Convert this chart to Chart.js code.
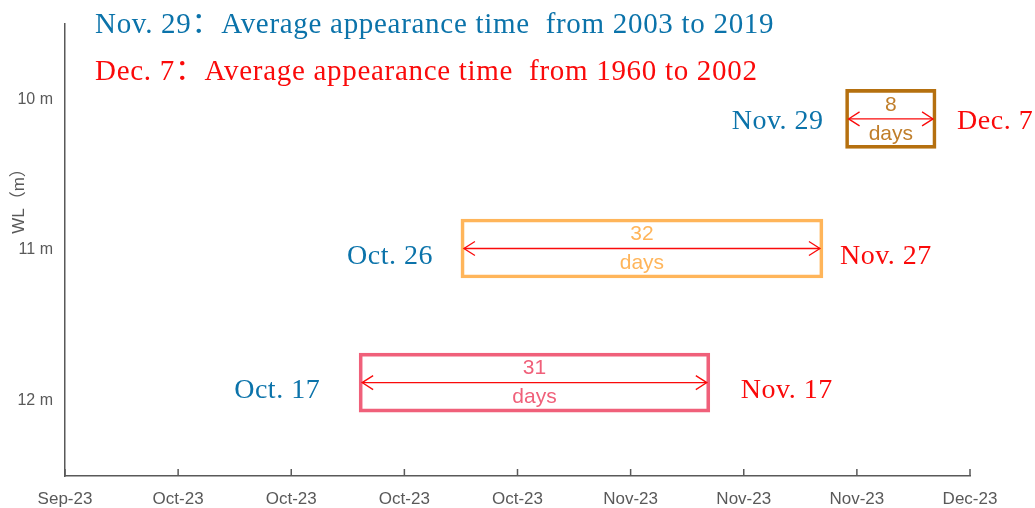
<!DOCTYPE html>
<html>
<head>
<meta charset="utf-8">
<script src="https://cdn.jsdelivr.net/npm/chart.js@4.4.1/dist/chart.umd.min.js"></script>
<style>
html,body{margin:0;padding:0;background:#fff;}
canvas{display:block;}
</style>
</head>
<body>
<canvas id="c" width="1035" height="508"></canvas>
<script>
// ---- data ----
const baseDate = '2023-09-21';
const tickLabels = ['Sep-23','Oct-23','Oct-23','Oct-23','Oct-23','Nov-23','Nov-23','Nov-23','Dec-23'];
const yTickValues = [10, 11, 12];
const yTickLabels = ['10 m', '11 m', '12 m'];
const startDates = ['2023-10-17', '2023-10-26', '2023-11-29'];
const endDates = ['2023-11-17', '2023-11-27', '2023-12-07'];
const durations = [31, 32, 8];
const levels = [11.88, 10.99, 10.13];
const startLabels = ['Oct. 17', 'Oct. 26', 'Nov. 29'];
const endLabels = ['Nov. 17', 'Nov. 27', 'Dec. 7'];
const titleLines = [
  'Nov. 29\uFF1AAverage appearance time  from 2003 to 2019',
  'Dec. 7\uFF1AAverage appearance time  from 1960 to 2002'
];

// ---- styles ----
const BLUE = '#0b73aa';
const RED = '#fa0a0a';
const boxColors = ['#f0607a', '#ffb55a', '#b5700f'];
const boxTextColors = ['#f0607a', '#ffb55a', '#c07e2a'];
const startGap = [39, 28, 22];
const endGap = [31, 17, 21];
const labelDy = [15, 16, 10];
const AXIS = '#595959';
const SERIF = '"Liberation Serif", "Noto Sans CJK SC", "Times New Roman", serif';
const SANS = '"Liberation Sans", "Noto Sans CJK SC", Arial, sans-serif';

const dayOf = d => (Date.parse(d) - Date.parse(baseDate)) / 86400000;
const starts = startDates.map(dayOf);
const ends = endDates.map(dayOf);

const overlay = {
  id: 'overlay',
  afterDatasetsDraw(chart) {
    const ctx = chart.ctx;
    const xs = chart.scales.x, ys = chart.scales.y;
    ctx.save();
    // inner x tick marks
    ctx.strokeStyle = AXIS; ctx.lineWidth = 1.5;
    xs.ticks.forEach(t => {
      const px = xs.getPixelForValue(t.value);
      ctx.beginPath(); ctx.moveTo(px, xs.top); ctx.lineTo(px, xs.top - 7); ctx.stroke();
    });
    // y axis title
    ctx.save();
    ctx.translate(19, 197); ctx.rotate(-Math.PI / 2);
    ctx.fillStyle = AXIS; ctx.font = '17px ' + SANS;
    ctx.textAlign = 'center'; ctx.textBaseline = 'middle';
    ctx.fillText('WL\uFF08m\uFF09', 0, 0);
    ctx.restore();
    // titles
    ctx.font = '29px ' + SERIF;
    ctx.letterSpacing = '0.7px';
    ctx.textAlign = 'left'; ctx.textBaseline = 'alphabetic';
    ctx.fillStyle = BLUE; ctx.fillText(titleLines[0], 95, 33);
    ctx.fillStyle = RED; ctx.fillText(titleLines[1], 95, 80);
    // per box annotations
    for (let i = 0; i < levels.length; i++) {
      const x0 = xs.getPixelForValue(starts[i]);
      const x1 = xs.getPixelForValue(ends[i]);
      const yc = ys.getPixelForValue(levels[i]);
      const ax0 = x0 + 3, ax1 = x1 - 3;
      // arrow
      ctx.strokeStyle = RED; ctx.lineWidth = 1.3;
      ctx.beginPath(); ctx.moveTo(ax0, yc); ctx.lineTo(ax1, yc); ctx.stroke();
      ctx.beginPath();
      ctx.moveTo(ax0 + 11, yc - 7); ctx.lineTo(ax0, yc); ctx.lineTo(ax0 + 11, yc + 7);
      ctx.moveTo(ax1 - 11, yc - 7); ctx.lineTo(ax1, yc); ctx.lineTo(ax1 - 11, yc + 7);
      ctx.stroke();
      // box text
      ctx.letterSpacing = '0px';
      ctx.font = '21px ' + SANS;
      ctx.fillStyle = boxTextColors[i];
      ctx.textAlign = 'center'; ctx.textBaseline = 'middle';
      const cx = (x0 + x1) / 2;
      ctx.fillText(String(durations[i]), cx, yc - 14);
      ctx.fillText('days', cx, yc + 15);
      // side labels
      ctx.font = '28px ' + SERIF;
      ctx.letterSpacing = '0.5px';
      ctx.textBaseline = 'alphabetic';
      ctx.fillStyle = BLUE; ctx.textAlign = 'right';
      ctx.fillText(startLabels[i], x0 - startGap[i], yc + labelDy[i]);
      ctx.fillStyle = RED; ctx.textAlign = 'left';
      ctx.fillText(endLabels[i], x1 + endGap[i], yc + labelDy[i]);
    }
    ctx.restore();
  }
};

new Chart(document.getElementById('c'), {
  type: 'bar',
  data: {
    datasets: [{
      data: levels.map((l, i) => ({ x: [starts[i], ends[i]], y: l })),
      backgroundColor: 'rgba(0,0,0,0)',
      borderColor: boxColors,
      borderWidth: 3,
      borderSkipped: false,
      barThickness: 59
    }]
  },
  options: {
    indexAxis: 'y',
    responsive: false,
    devicePixelRatio: 1,
    animation: false,
    layout: { padding: { top: 24, right: 65, left: 0, bottom: 0 } },
    plugins: { legend: { display: false }, tooltip: { enabled: false } },
    scales: {
      x: {
        type: 'linear', min: 0, max: 80, offset: false,
        ticks: {
          stepSize: 10, padding: 13, color: AXIS, maxRotation: 0, autoSkip: false,
          font: { family: SANS, size: 17 },
          callback: (v, i) => tickLabels[i]
        },
        grid: { display: false, drawTicks: false },
        border: { display: true, color: AXIS, width: 1.5 },
        afterFit: s => { s.height = 32; }
      },
      y: {
        type: 'linear', reverse: true, min: 9.5, max: 12.5, offset: false,
        afterBuildTicks: s => { s.ticks = yTickValues.map(v => ({ value: v })); },
        ticks: {
          padding: 12, color: AXIS,
          font: { family: SANS, size: 16 },
          callback: (v) => yTickLabels[yTickValues.indexOf(v)]
        },
        grid: { display: false, drawTicks: false },
        border: { display: true, color: AXIS, width: 1.5 },
        afterFit: s => { s.width = 65; }
      }
    }
  },
  plugins: [overlay]
});
</script>
</body>
</html>
